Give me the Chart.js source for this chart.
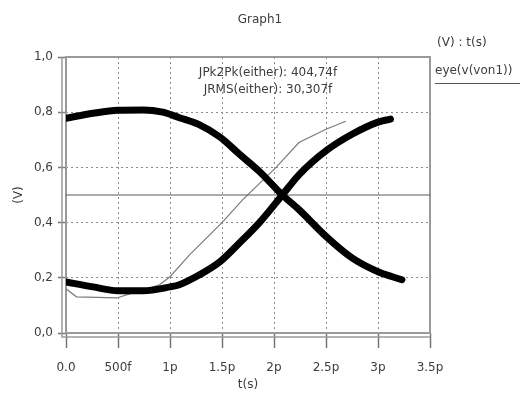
<!DOCTYPE html>
<html>
<head>
<meta charset="utf-8">
<title>Graph1</title>
<script src="https://cdn.jsdelivr.net/npm/chart.js@4/dist/chart.umd.min.js"></script>
<style>
  html, body { margin: 0; padding: 0; background: #fff; }
  #wrap { width: 520px; height: 396px; }
</style>
</head>
<body>
<div id="wrap"><canvas id="eyeChart" width="520" height="396"></canvas></div>
<script>
// eye diagram traces (time in ps, voltage in V)
const fallTime = [0, 0.26, 0.5, 0.74, 0.93, 1.09, 1.28, 1.48, 1.67, 1.86, 2.08, 2.24, 2.5, 2.75, 3.0, 3.23];
const fallVolt = [0.778, 0.796, 0.807, 0.808, 0.80, 0.78, 0.755, 0.71, 0.647, 0.585, 0.50, 0.447, 0.35, 0.272, 0.222, 0.193];

const riseTime = [0, 0.26, 0.5, 0.74, 1.0, 1.09, 1.28, 1.48, 1.67, 1.86, 2.08, 2.24, 2.5, 2.75, 3.0, 3.12];
const riseVolt = [0.185, 0.167, 0.153, 0.153, 0.167, 0.175, 0.21, 0.258, 0.327, 0.40, 0.50, 0.573, 0.66, 0.72, 0.764, 0.775];

const thinTime = [0, 0.1, 0.49, 0.58, 0.9, 1.0, 1.19, 1.5, 1.7, 2.02, 2.24, 2.5, 2.69];
const thinVolt = [0.16, 0.131, 0.127, 0.138, 0.175, 0.204, 0.284, 0.40, 0.483, 0.6, 0.69, 0.738, 0.767];

// decision threshold
const refTime = [0, 3.5];
const refVolt = [0.5, 0.5];

const xTickLabels = ['0.0', '500f', '1p', '1.5p', '2p', '2.5p', '3p', '3.5p'];
const yTickLabels = ['0,0', '0,2', '0,4', '0,6', '0,8', '1,0'];

const graphTitle = 'Graph1';
const jitterLines = ['JPk2Pk(either): 404,74f', 'JRMS(either): 30,307f'];
const legendHeader = '(V) : t(s)';
const legendName = 'eye(v(von1))';

const FONT = 'DejaVu Sans';
const TEXT = '#3c3c3c';

function toPoints(xs, ys) {
  return xs.map((x, i) => ({ x: x, y: ys[i] }));
}

const framePlugin = {
  id: 'frame',
  beforeDatasetsDraw(chart) {
    const { ctx, chartArea: a } = chart;
    ctx.save();
    ctx.strokeStyle = '#9a9a9a';
    ctx.lineWidth = 2;
    ctx.strokeRect(a.left, a.top, a.right - a.left, a.bottom - a.top);
    ctx.lineWidth = 1.5;
    ctx.beginPath();
    ctx.moveTo(a.left - 4, a.top);
    ctx.lineTo(a.left - 4, a.bottom + 4);
    ctx.lineTo(a.right, a.bottom + 4);
    ctx.stroke();
    ctx.restore();
  },
  afterDraw(chart) {
    const { ctx, chartArea: a } = chart;
    ctx.save();
    ctx.fillStyle = TEXT;
    ctx.textBaseline = 'middle';

    ctx.font = '12px "' + FONT + '"';
    ctx.textAlign = 'center';
    ctx.fillText(graphTitle, chart.width / 2, 20);

    const cx = (a.left + a.right) / 2 + 20;
    ctx.fillText(jitterLines[0], cx, a.top + 16);
    ctx.fillText(jitterLines[1], cx, a.top + 33);

    ctx.textAlign = 'left';
    ctx.fillText(legendHeader, a.right + 7, 43);
    ctx.fillText(legendName, a.right + 5, 71);
    ctx.strokeStyle = '#555';
    ctx.lineWidth = 1;
    ctx.beginPath();
    ctx.moveTo(a.right + 5, 83.5);
    ctx.lineTo(chart.width, 83.5);
    ctx.stroke();
    ctx.restore();
  }
};

const thick = {
  borderColor: '#000',
  backgroundColor: '#000',
  borderWidth: 7,
  pointRadius: 0,
  fill: false,
  cubicInterpolationMode: 'monotone',
  borderCapStyle: 'round',
  borderJoinStyle: 'round',
  order: 0
};

new Chart(document.getElementById('eyeChart'), {
  type: 'line',
  data: {
    datasets: [
      Object.assign({ label: 'fall', data: toPoints(fallTime, fallVolt) }, thick),
      Object.assign({ label: 'rise', data: toPoints(riseTime, riseVolt) }, thick),
      {
        label: 'threshold',
        data: toPoints(refTime, refVolt),
        borderColor: '#5a5a5a',
        borderWidth: 1.2,
        pointRadius: 0,
        order: 1
      },
      {
        label: 'thin',
        data: toPoints(thinTime, thinVolt),
        borderColor: '#7a7a7a',
        borderWidth: 1.2,
        pointRadius: 0,
        tension: 0,
        order: 2
      }
    ]
  },
  options: {
    responsive: false,
    animation: false,
    devicePixelRatio: 1,
    layout: { padding: { top: 57, right: 90, left: 0, bottom: 0 } },
    plugins: {
      legend: { display: false },
      tooltip: { enabled: false }
    },
    scales: {
      x: {
        type: 'linear',
        min: 0,
        max: 3.5,
        afterFit: (s) => { s.height = 63; },
        ticks: {
          stepSize: 0.5,
          padding: 13,
          color: TEXT,
          font: { family: FONT, size: 12 },
          maxRotation: 0,
          callback: (v, i) => xTickLabels[i]
        },
        grid: {
          color: '#8c8c8c',
          lineWidth: 1,
          tickLength: 15,
          tickColor: '#777',
          tickWidth: 1.5,
          tickBorderDash: []
        },
        border: { display: false, dash: [2, 3] },
        title: {
          display: true,
          text: 't(s)',
          color: TEXT,
          font: { family: FONT, size: 12 },
          padding: { top: 0, bottom: 4 }
        }
      },
      y: {
        min: 0,
        max: 1,
        afterFit: (s) => { s.width = 66; },
        ticks: {
          stepSize: 0.2,
          padding: 5,
          color: TEXT,
          font: { family: FONT, size: 12 },
          callback: (v, i) => yTickLabels[i]
        },
        grid: {
          color: '#8c8c8c',
          lineWidth: 1,
          tickLength: 8,
          tickColor: '#777',
          tickWidth: 1.5,
          tickBorderDash: []
        },
        border: { display: false, dash: [2, 3] },
        title: {
          display: true,
          text: '(V)',
          color: TEXT,
          font: { family: FONT, size: 12 },
          padding: { top: 12, bottom: 0 }
        }
      }
    }
  },
  plugins: [framePlugin]
});
</script>
</body>
</html>
